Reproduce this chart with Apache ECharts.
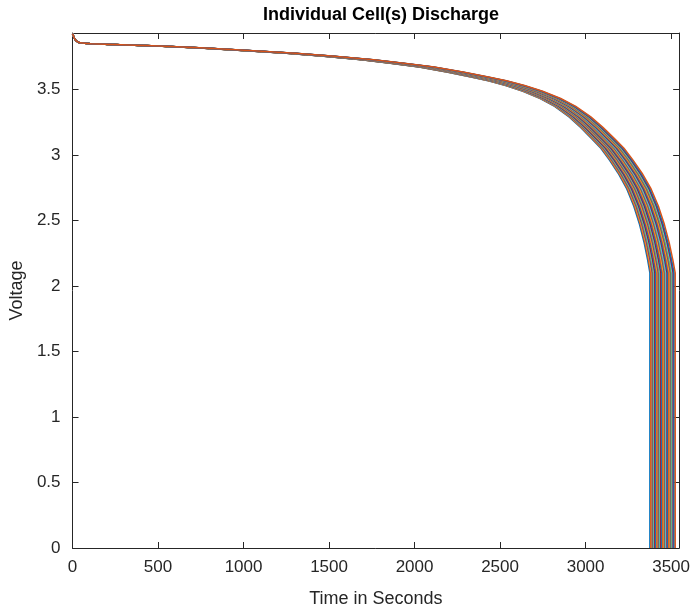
<!DOCTYPE html>
<html>
<head>
<meta charset="utf-8">
<script src="https://cdn.jsdelivr.net/npm/echarts@6/dist/echarts.min.js"></script>
<style>
  html, body { margin: 0; padding: 0; background: #fff; }
  #main { width: 693px; height: 613px; }
</style>
</head>
<body>
<div id="main"></div>
<script>
// discharge shape of one cell, as fraction of that cell's run time -> voltage
var capFraction = [0, 0.003, 0.006, 0.012, 0.03, 0.08, 0.145, 0.22, 0.3, 0.37, 0.43, 0.5, 0.55, 0.6,
    0.65, 0.69, 0.72, 0.75, 0.78, 0.81, 0.835, 0.86, 0.88, 0.9, 0.915, 0.93, 0.945, 0.96, 0.972,
    0.982, 0.99, 0.996, 1.0];
var cellVoltage = [3.925, 3.89, 3.87, 3.855, 3.848, 3.84, 3.83, 3.815, 3.795, 3.775, 3.755, 3.725, 3.7, 3.67,
    3.63, 3.595, 3.565, 3.53, 3.485, 3.43, 3.37, 3.29, 3.21, 3.12, 3.05, 2.96, 2.86, 2.74, 2.61,
    2.47, 2.33, 2.2, 2.1];
// time (s) at which each cell hits cut-off and drops to 0
var cellEndTime = [3376, 3381, 3386, 3390, 3396, 3401, 3405, 3411, 3416, 3420, 3425, 3431, 3436, 3440,
    3446, 3451, 3456, 3461, 3466, 3470, 3476, 3481, 3486, 3491, 3496, 3501, 3507, 3512, 3517, 3524];
var xTicks = [0, 500, 1000, 1500, 2000, 2500, 3000, 3500];
var yTicks = [0, 0.5, 1, 1.5, 2, 2.5, 3, 3.5];

var colors = ['#0072BD', '#D95319', '#EDB120', '#7E2F8E', '#77AC30', '#4DBEEE', '#A2142F'];
var font = '"Liberation Sans", Arial, Helvetica, sans-serif';
var axisColor = '#262626';

var myChart = echarts.init(document.getElementById('main'));

var series = [];
for (var i = 0; i < cellEndTime.length; i++) {
    var T = cellEndTime[i];
    var data = [];
    for (var j = 0; j < capFraction.length; j++) {
        data.push([capFraction[j] * T, cellVoltage[j]]);
    }
    data.push([T, 0]);
    series.push({
        name: 'Cell ' + (i + 1),
        type: 'line',
        data: data,
        showSymbol: false,
        lineStyle: { width: 1.5, color: colors[i % colors.length] },
        itemStyle: { color: colors[i % colors.length] },
        silent: true
    });
}

function tickLabel(list) {
    return function (v) {
        for (var k = 0; k < list.length; k++) {
            if (Math.abs(list[k] - v) < 1e-9) return String(list[k]);
        }
        return '';
    };
}

var option = {
    backgroundColor: '#fff',
    animation: false,
    title: {
        text: 'Individual Cell(s) Discharge',
        left: 376,
        textAlign: 'center',
        top: 1,
        textStyle: { fontFamily: font, fontSize: 18, fontWeight: 'bold', color: '#000' }
    },
    grid: { left: 72, right: 12, top: 33, bottom: 64 },
    xAxis: [{
        type: 'value',
        min: 0,
        max: 3547,
        interval: 500,
        name: 'Time in Seconds',
        nameLocation: 'middle',
        nameGap: 42,
        nameTextStyle: { fontFamily: font, fontSize: 18, color: axisColor },
        axisLine: { show: true, lineStyle: { color: axisColor, width: 1 } },
        axisTick: { show: true, inside: true, length: 6, lineStyle: { color: axisColor } },
        axisLabel: { fontFamily: font, fontSize: 17, color: axisColor, margin: 11,
            showMaxLabel: false, formatter: tickLabel(xTicks) },
        splitLine: { show: false }
    }, {
        type: 'value',
        position: 'top',
        min: 0,
        max: 3547,
        interval: 500,
        axisLine: { show: true, onZero: false, lineStyle: { color: axisColor, width: 1 } },
        axisTick: { show: true, inside: true, length: 6, lineStyle: { color: axisColor } },
        axisLabel: { show: false },
        splitLine: { show: false }
    }],
    yAxis: [{
        type: 'value',
        min: 0,
        max: 3.93,
        interval: 0.5,
        name: 'Voltage',
        nameLocation: 'middle',
        nameGap: 38,
        nameTextStyle: { fontFamily: font, fontSize: 18, color: axisColor },
        axisLine: { show: true, lineStyle: { color: axisColor, width: 1 } },
        axisTick: { show: true, inside: true, length: 6, lineStyle: { color: axisColor } },
        axisLabel: { fontFamily: font, fontSize: 17, color: axisColor, margin: 12,
            showMaxLabel: false, formatter: tickLabel(yTicks) },
        splitLine: { show: false }
    }, {
        type: 'value',
        position: 'right',
        min: 0,
        max: 3.93,
        interval: 0.5,
        axisLine: { show: true, onZero: false, lineStyle: { color: axisColor, width: 1 } },
        axisTick: { show: true, inside: true, length: 6, lineStyle: { color: axisColor } },
        axisLabel: { show: false },
        splitLine: { show: false }
    }],
    series: series
};

myChart.setOption(option);
</script>
</body>
</html>
